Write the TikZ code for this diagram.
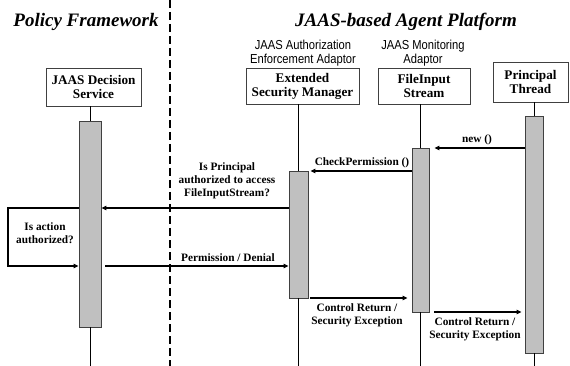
\documentclass[tikz,border=0pt]{standalone}
\usepackage{fontspec}
\setmainfont{Liberation Serif}
\newfontfamily\narrowsans[FakeStretch=0.86]{Liberation Sans}
\usetikzlibrary{arrows.meta}
\definecolor{barfill}{HTML}{C0C0C0}
\definecolor{bardraw}{HTML}{404040}
\tikzset{
  objbox/.style={draw=black!75, line width=0.8pt, fill=white, inner sep=0pt,
    align=center, font=\fontsize{13.2}{14}\selectfont\bfseries},
  actbar/.style={draw=bardraw, line width=0.8pt, fill=barfill, inner sep=0pt},
  lifeline/.style={line width=0.8pt, black},
  msg/.style={line width=1.2pt, -{Triangle[length=5pt,width=4.5pt]}},
  msglabel/.style={align=center, inner sep=0pt, font=\fontsize{11.3}{13}\selectfont\bfseries},
  rolelabel/.style={align=center, inner sep=0pt, font=\narrowsans\fontsize{13}{13.5}\selectfont},
  title/.style={inner sep=0pt, font=\fontsize{19}{21}\selectfont\bfseries\itshape},
}
\begin{document}
\begin{tikzpicture}[x=1pt, y=-1pt]
\useasboundingbox (0,0) rectangle (570,366);

% section titles and the boundary between them
\node[title] (pf) at (86,22) {Policy Framework};
\node[title] (jp) at (406,22) {JAAS-based Agent Platform};
\draw[line width=2.6pt, dash pattern=on 8pt off 4pt] (170,0) -- (170,366);

% objects
\node[objbox, minimum width=95pt, minimum height=38pt] (dec) at (93.5,87) {JAAS Decision\\Service};
\node[objbox, minimum width=113pt, minimum height=36pt] (sm) at (302.5,86) {Extended\\Security Manager};
\node[objbox, minimum width=92pt, minimum height=36pt] (fis) at (424,86) {FileInput\\Stream};
\node[objbox, minimum width=75pt, minimum height=40pt] (pt) at (530.5,82) {Principal\\Thread};

\node[rolelabel] (smrole) at (303,53) {JAAS Authorization\\Enforcement Adaptor};
\node[rolelabel] (fisrole) at (423,53) {JAAS Monitoring\\Adaptor};

% activation bars
\node[actbar, minimum width=22pt, minimum height=206pt] (decbar) at (90,224) {};
\node[actbar, minimum width=19pt, minimum height=127pt] (smbar) at (298.5,234.5) {};
\node[actbar, minimum width=17pt, minimum height=164pt] (fisbar) at (420.5,230) {};
\node[actbar, minimum width=18pt, minimum height=237pt] (ptbar) at (534,234.5) {};

% lifeline ends
\coordinate (decend) at (90,366);
\coordinate (smend) at (298.5,366);
\coordinate (fisend) at (420.5,366);
\coordinate (ptend) at (534,366);

% lifelines
\draw[lifeline] (dec.south -| decbar.north) -- (decbar.north);
\draw[lifeline] (decbar.south) -- (decend);
\draw[lifeline] (sm.south -| smbar.north) -- (smbar.north);
\draw[lifeline] (smbar.south) -- (smend);
\draw[lifeline] (fis.south -| fisbar.north) -- (fisbar.north);
\draw[lifeline] (fisbar.south) -- (fisend);
\draw[lifeline] (pt.south -| ptbar.north) -- (ptbar.north);
\draw[lifeline] (ptbar.south) -- (ptend);

% message levels
\coordinate (ynew) at (0,148);
\coordinate (ycheck) at (0,171);
\coordinate (yask) at (0,208);
\coordinate (yperm) at (0,266);
\coordinate (yret1) at (0,298);
\coordinate (yret2) at (0,312);
\coordinate (loopx) at (8,0);

% messages
\draw[msg] (ptbar.west |- ynew) -- ([xshift=5pt]fisbar.east |- ynew);
\node[msglabel, anchor=south] (newlbl) at (477,145) {new ()};

\draw[msg] (fisbar.west |- ycheck) -- ([xshift=2pt]smbar.east |- ycheck);
\node[msglabel, anchor=south] (chklbl) at (362,168) {CheckPermission ()};

\draw[msg] (smbar.west |- yask) -- (decbar.east |- yask);
\node[msglabel] (asklbl) at (227,181) {Is Principal\\authorized to access\\FileInputStream?};

\draw[msg] (decbar.west |- yask) -- (loopx |- yask) -- (loopx |- yperm) -- (decbar.west |- yperm);
\node[msglabel] (looplbl) at (45,233) {Is action\\authorized?};

\draw[msg] ([xshift=4pt]decbar.east |- yperm) -- (smbar.west |- yperm);
\node[msglabel, anchor=south] (permlbl) at (228,262) {Permission / Denial};

\draw[msg] ([xshift=2pt]smbar.east |- yret1) -- ([xshift=-4pt]fisbar.west |- yret1);
\node[msglabel] (ret1lbl) at (357,315) {Control Return /\\Security Exception};

\draw[msg] ([xshift=5pt]fisbar.east |- yret2) -- ([xshift=-3pt]ptbar.west |- yret2);
\node[msglabel] (ret2lbl) at (475,329) {Control Return /\\Security Exception};
\end{tikzpicture}
\end{document}
